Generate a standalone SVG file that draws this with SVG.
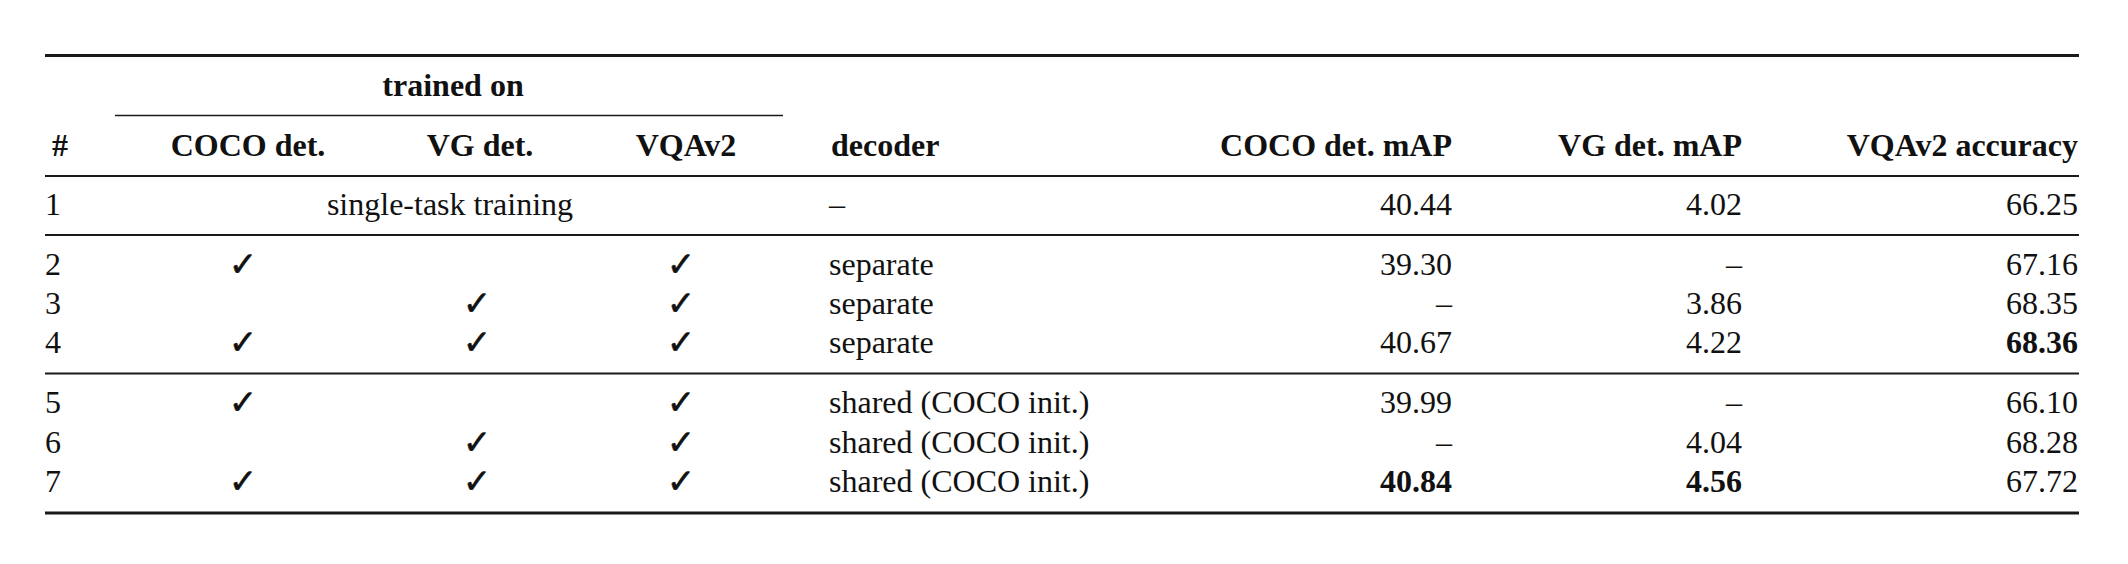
<svg xmlns="http://www.w3.org/2000/svg" width="2128" height="564" viewBox="0 0 2128 564">
<style>
  text { font-family: "Liberation Serif", "Times New Roman", serif; font-size: 32px; fill: #111; }
  .b { font-weight: bold; }
  .m { text-anchor: middle; }
  .r { text-anchor: end; }
  .ck { font-family: "DejaVu Sans", sans-serif; font-size: 34px; font-weight: bold; text-anchor: middle; stroke: #111; stroke-width: 0.6; }
  .heavy { stroke: #1a1a1a; stroke-width: 3; }
  .light { stroke: #1a1a1a; stroke-width: 2; }
  .thin { stroke: #1a1a1a; stroke-width: 1.5; }
</style>
<rect width="2128" height="564" fill="#fff"/>
<g id="rules">
  <line class="heavy" x1="45" y1="55.5" x2="2079" y2="55.5"/>
  <line class="thin" x1="115" y1="115.5" x2="783" y2="115.5"/>
  <line class="light" x1="45" y1="176" x2="2079" y2="176"/>
  <line class="light" x1="45" y1="235" x2="2079" y2="235"/>
  <line class="light" x1="45" y1="373.5" x2="2079" y2="373.5"/>
  <line class="heavy" x1="45" y1="513" x2="2079" y2="513"/>
</g>
<g id="header">
  <text class="b m" x="453" y="96">trained on</text>
  <text class="b" x="52" y="156">#</text>
  <text class="b m" x="248" y="156">COCO det.</text>
  <text class="b m" x="480" y="156">VG det.</text>
  <text class="b m" x="686" y="156">VQAv2</text>
  <text class="b" x="831" y="156">decoder</text>
  <text class="b r" x="1452" y="156">COCO det. mAP</text>
  <text class="b r" x="1742" y="156">VG det. mAP</text>
  <text class="b r" x="2078" y="156">VQAv2 accuracy</text>
</g>
<g id="row1">
  <text x="45" y="215">1</text>
  <text class="m" x="450" y="215">single-task training</text>
  <text x="829" y="215">–</text>
  <text class="r" x="1452" y="215">40.44</text>
  <text class="r" x="1742" y="215">4.02</text>
  <text class="r" x="2078" y="215">66.25</text>
</g>
<g id="row2">
  <text x="45" y="275">2</text>
  <text class="ck" x="243" y="276">✓</text>
  <text class="ck" x="681" y="276">✓</text>
  <text x="829" y="275">separate</text>
  <text class="r" x="1452" y="275">39.30</text>
  <text class="r" x="1742" y="275">–</text>
  <text class="r" x="2078" y="275">67.16</text>
</g>
<g id="row3">
  <text x="45" y="314">3</text>
  <text class="ck" x="477" y="315">✓</text>
  <text class="ck" x="681" y="315">✓</text>
  <text x="829" y="314">separate</text>
  <text class="r" x="1452" y="314">–</text>
  <text class="r" x="1742" y="314">3.86</text>
  <text class="r" x="2078" y="314">68.35</text>
</g>
<g id="row4">
  <text x="45" y="353">4</text>
  <text class="ck" x="243" y="354">✓</text>
  <text class="ck" x="477" y="354">✓</text>
  <text class="ck" x="681" y="354">✓</text>
  <text x="829" y="353">separate</text>
  <text class="r" x="1452" y="353">40.67</text>
  <text class="r" x="1742" y="353">4.22</text>
  <text class="r b" x="2078" y="353">68.36</text>
</g>
<g id="row5">
  <text x="45" y="413">5</text>
  <text class="ck" x="243" y="414">✓</text>
  <text class="ck" x="681" y="414">✓</text>
  <text x="829" y="413">shared (COCO init.)</text>
  <text class="r" x="1452" y="413">39.99</text>
  <text class="r" x="1742" y="413">–</text>
  <text class="r" x="2078" y="413">66.10</text>
</g>
<g id="row6">
  <text x="45" y="452.5">6</text>
  <text class="ck" x="477" y="453.5">✓</text>
  <text class="ck" x="681" y="453.5">✓</text>
  <text x="829" y="452.5">shared (COCO init.)</text>
  <text class="r" x="1452" y="452.5">–</text>
  <text class="r" x="1742" y="452.5">4.04</text>
  <text class="r" x="2078" y="452.5">68.28</text>
</g>
<g id="row7">
  <text x="45" y="492">7</text>
  <text class="ck" x="243" y="493">✓</text>
  <text class="ck" x="477" y="493">✓</text>
  <text class="ck" x="681" y="493">✓</text>
  <text x="829" y="492">shared (COCO init.)</text>
  <text class="r b" x="1452" y="492">40.84</text>
  <text class="r b" x="1742" y="492">4.56</text>
  <text class="r" x="2078" y="492">67.72</text>
</g>
</svg>
